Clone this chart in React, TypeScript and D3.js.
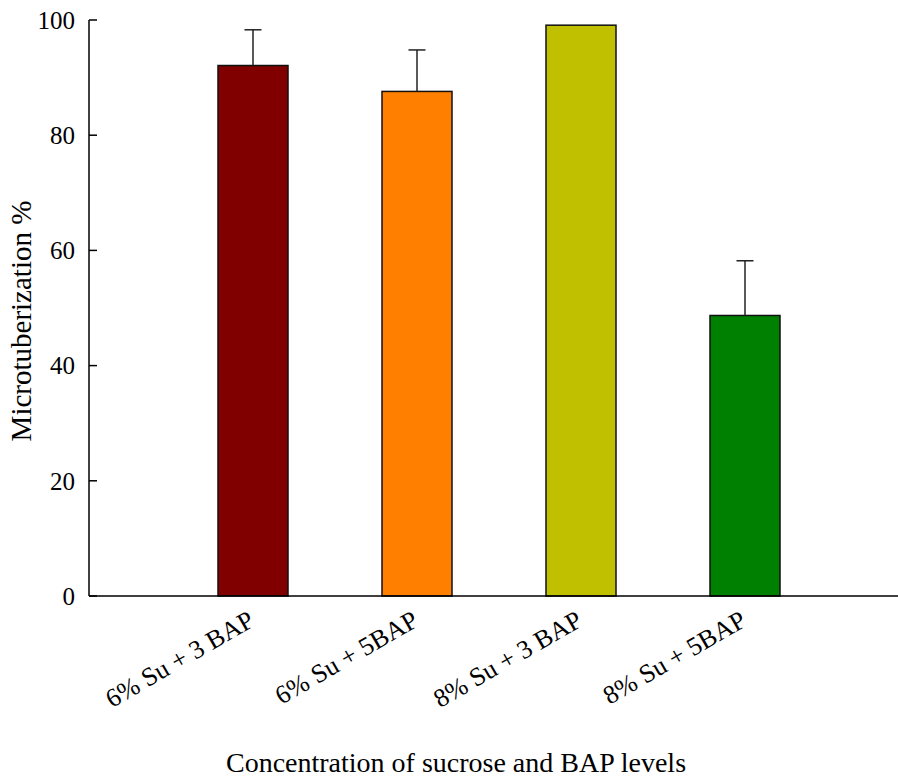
import React, { useRef, useEffect } from "react";
import * as d3 from "d3";

const categories = ["6% Su + 3 BAP", "6% Su + 5BAP", "8% Su + 3 BAP", "8% Su + 5BAP"];
const values = [92.1, 87.6, 99.1, 48.7];
const errors = [6.2, 7.2, 0, 9.5];
const colors = ["#800000", "#ff8000", "#c0c000", "#008000"];
const yTicks = [0, 20, 40, 60, 80, 100];

export default function App() {
  const svgRef = useRef<SVGSVGElement>(null);

  useEffect(() => {
    const svg = d3.select(svgRef.current);
    svg.selectAll("*").remove();

    const width = 898;
    const height = 778;
    const font = "'Liberation Serif', 'Times New Roman', serif";

    // x positions: bars sit at 1..4 on a 0..5 scale
    const x = d3.scaleLinear().domain([0, 5]).range([89, 909]);
    const y = d3.scaleLinear().domain([0, 100]).range([596, 20]);
    const barW = 70;

    const g = svg.append("g");

    // bars
    g.selectAll("rect.bar")
      .data(values)
      .enter()
      .append("rect")
      .attr("class", "bar")
      .attr("x", (d, i) => x(i + 1) - barW / 2)
      .attr("y", (d) => y(d))
      .attr("width", barW)
      .attr("height", (d) => y(0) - y(d))
      .attr("fill", (d, i) => colors[i])
      .attr("stroke", "#111")
      .attr("stroke-width", 1.5);

    // error bars (upper only)
    const errData = values.map((v, i) => ({ v, e: errors[i], i })).filter((d) => d.e > 0);
    g.selectAll("line.err")
      .data(errData)
      .enter()
      .append("line")
      .attr("x1", (d) => x(d.i + 1))
      .attr("x2", (d) => x(d.i + 1))
      .attr("y1", (d) => y(d.v))
      .attr("y2", (d) => y(d.v + d.e))
      .attr("stroke", "#222")
      .attr("stroke-width", 1.5);
    g.selectAll("line.cap")
      .data(errData)
      .enter()
      .append("line")
      .attr("x1", (d) => x(d.i + 1) - 8.5)
      .attr("x2", (d) => x(d.i + 1) + 8.5)
      .attr("y1", (d) => y(d.v + d.e))
      .attr("y2", (d) => y(d.v + d.e))
      .attr("stroke", "#222")
      .attr("stroke-width", 1.5);

    // y axis
    g.append("line")
      .attr("x1", 89).attr("x2", 89)
      .attr("y1", y(100)).attr("y2", y(0))
      .attr("stroke", "#000").attr("stroke-width", 1.5);
    g.selectAll("line.ytick")
      .data(yTicks)
      .enter()
      .append("line")
      .attr("x1", 89).attr("x2", 97)
      .attr("y1", (d) => y(d)).attr("y2", (d) => y(d))
      .attr("stroke", "#000").attr("stroke-width", 1.5);
    g.selectAll("text.ylab")
      .data(yTicks)
      .enter()
      .append("text")
      .attr("x", 75)
      .attr("y", (d) => y(d))
      .attr("dy", "0.35em")
      .attr("text-anchor", "end")
      .attr("font-family", font)
      .attr("font-size", 25)
      .text((d) => d);

    // x axis
    g.append("line")
      .attr("x1", 89).attr("x2", width)
      .attr("y1", y(0)).attr("y2", y(0))
      .attr("stroke", "#000").attr("stroke-width", 1.5);

    // category labels
    g.selectAll("text.xlab")
      .data(categories)
      .enter()
      .append("text")
      .attr("transform", (d, i) => `translate(${x(i + 1) + 3},${625}) rotate(-30)`)
      .attr("text-anchor", "end")
      .attr("font-family", font)
      .attr("font-size", 26)
      .text((d) => d);

    // axis titles
    g.append("text")
      .attr("transform", `translate(31,${321}) rotate(-90)`)
      .attr("text-anchor", "middle")
      .attr("font-family", font)
      .attr("font-size", 29)
      .text("Microtuberization %");
    g.append("text")
      .attr("x", 456)
      .attr("y", 772)
      .attr("text-anchor", "middle")
      .attr("font-family", font)
      .attr("font-size", 28)
      .text("Concentration of sucrose and BAP levels");

    svg.attr("width", width).attr("height", height);
  }, []);

  return (
    <svg
      ref={svgRef}
      width={898}
      height={778}
      style={{ position: "absolute", left: 0, top: 0, background: "#fff" }}
    ></svg>
  );
}
